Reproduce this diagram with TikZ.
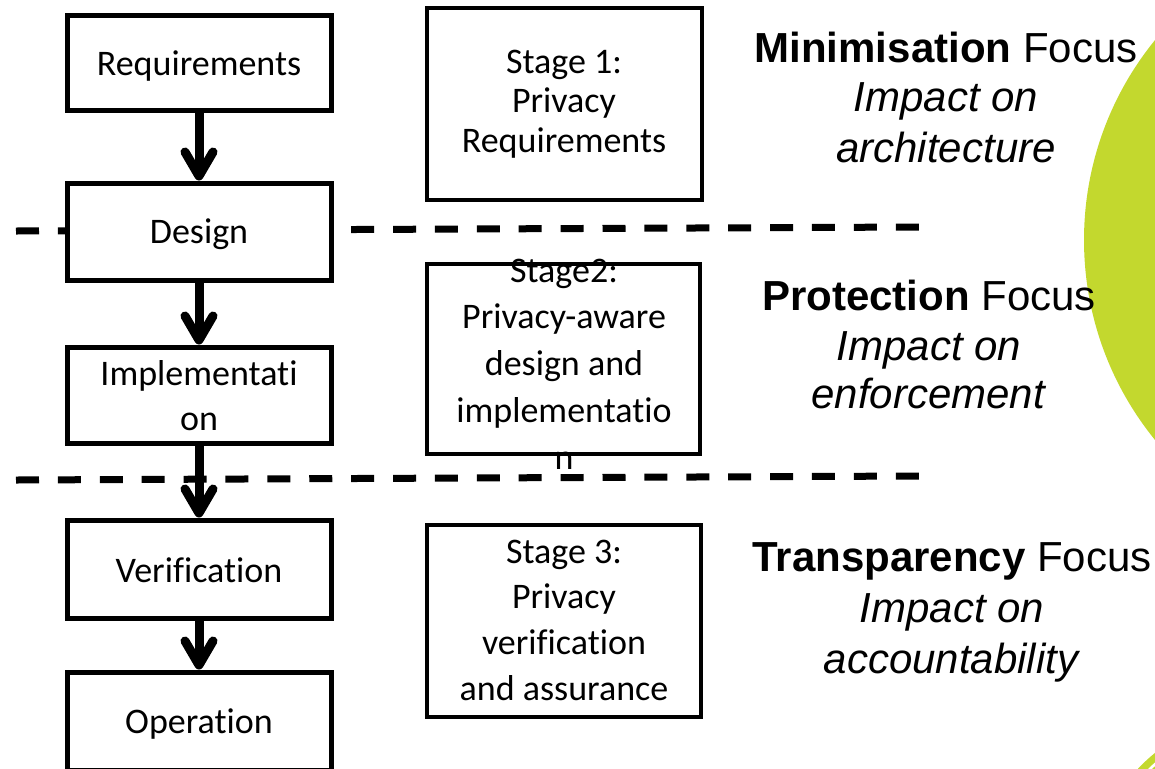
\documentclass[tikz,border=0pt]{standalone}
\usepackage{fontspec}
\setmainfont{Carlito}[Ligatures={NoCommon}]
\newfontfamily\arialf{Liberation Sans}
\usetikzlibrary{arrows.meta}
\definecolor{leaf}{RGB}{195,216,46}
\begin{document}
\begin{tikzpicture}[x=0.75pt,y=-0.75pt,
  lbox/.style={draw,line width=3.75pt,fill=white,minimum width=198pt,inner sep=0pt},
  sbox/.style={draw,line width=3pt,inner sep=0pt},
  ltext/.style={anchor=base,font=\fontsize{27}{32}\selectfont,inner sep=0pt},
  rtext/.style={anchor=base,font=\arialf\fontsize{31.5}{38}\selectfont,inner sep=0pt},
  flow/.style={line width=6.75pt,-{Straight Barb[length=18pt,width=21pt,line width=6.75pt,round]}},
  sepline/.style={line width=5.25pt,dash pattern=on 17.25pt off 14.17pt}
]
\useasboundingbox (0,0) rectangle (1155,768);
% green decoration
\fill[leaf] (1401,240) circle[radius=237.75pt];
\fill[leaf] (1262,885) circle[radius=127.5pt];
\draw[white,line width=2pt] (1262,885) circle[radius=121pt];
% dashed separators
\coordinate (d1a) at (16,231);
\coordinate (d1b) at (920,227);
\coordinate (d2a) at (16,480);
\coordinate (d2b) at (920,476);
\draw[sepline] (d1a) -- (d1b);
\draw[sepline] (d2a) -- (d2b);
% left column boxes
\node[lbox,minimum height=71.25pt] (req) at (199,62.5) {};
\node[lbox,minimum height=72.75pt] (des) at (199,231.5) {};
\node[lbox,minimum height=72pt] (imp) at (199,395) {};
\node[lbox,minimum height=73.5pt] (ver) at (199,569) {};
\node[lbox,minimum height=73.5pt] (ope) at (199,721) {};
\draw[flow] (req) -- (des);
\draw[flow] (des) -- (imp);
\draw[flow] (imp) -- (ver);
\draw[flow] (ver) -- (ope);
\node[ltext] (treq) at (199,75) {Requirements};
\node[ltext] (tdes) at (199,243) {Design};
\node[ltext] (timp1) at (199,385) {Implementati};
\node[ltext] (timp2) at (199,430) {on};
\node[ltext] (tver) at (199,582) {Verification};
\node[ltext] (tope) at (199,733) {Operation};
% stage texts
\node[ltext] (s1a) at (564,73) {Stage 1:};
\node[ltext] (s1b) at (564,112) {Privacy};
\node[ltext] (s1c) at (564,152) {Requirements};
\node[ltext] (s2a) at (564,282) {Stage2:};
\node[ltext] (s2b) at (564,328) {Privacy-aware};
\node[ltext] (s2c) at (564,375) {design and};
\node[ltext] (s2d) at (564,422) {implementatio};
\node[ltext] (s2e) at (564,469) {n};
\node[ltext] (s3a) at (564,563) {Stage 3:};
\node[ltext] (s3b) at (564,608) {Privacy};
\node[ltext] (s3c) at (564,654) {verification};
\node[ltext] (s3d) at (564,700) {and assurance};
% stage boxes
\node[sbox,minimum width=206.25pt,minimum height=144pt] (st1) at (564.5,104) {};
\node[sbox,minimum width=204.75pt,minimum height=142.5pt] (st2) at (563.5,359) {};
\node[sbox,minimum width=205.5pt,minimum height=144pt] (st3) at (564,621) {};
% focus texts
\node[rtext] (f1a) at (946,62) {\textbf{Minimisation} Focus};
\node[rtext] (f1b) at (946,111) {\textit{Impact on}};
\node[rtext] (f1c) at (946,162) {\textit{architecture}};
\node[rtext] (f2a) at (929,310) {\textbf{Protection} Focus};
\node[rtext] (f2b) at (929,360) {\textit{Impact on}};
\node[rtext] (f2c) at (929,408) {\textit{enforcement}};
\node[rtext] (f3a) at (952,571) {\textbf{Transparency} Focus};
\node[rtext] (f3b) at (952,622) {\textit{Impact on}};
\node[rtext] (f3c) at (952,673) {\textit{accountability}};
\end{tikzpicture}
\end{document}
